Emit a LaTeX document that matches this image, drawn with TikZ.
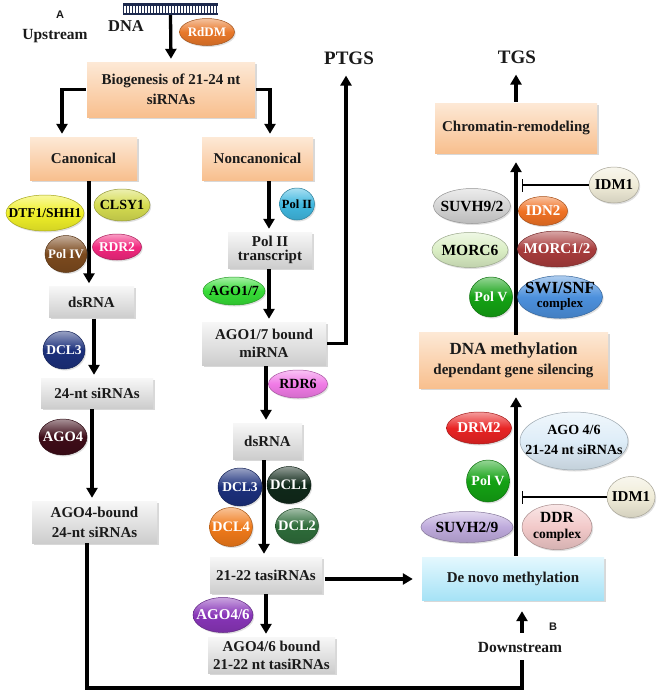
\documentclass[tikz,border=0pt]{standalone}
\usepackage{fontspec}
\setmainfont{Liberation Serif}
\newfontfamily\arialf{Liberation Sans}
\usetikzlibrary{shapes.geometric,arrows.meta,shadows}
\definecolor{txt}{HTML}{1A1A1A}
\definecolor{orT}{HTML}{FDE9D6}
\definecolor{orB}{HTML}{F8BF8E}
\definecolor{grT}{HTML}{F7F7F7}
\definecolor{grB}{HTML}{CDCDCD}
\definecolor{cyT}{HTML}{E4F8FE}
\definecolor{cyB}{HTML}{A6E2F6}
\definecolor{dnaC}{HTML}{1E2A4E}
\definecolor{cRd}{HTML}{E8782A}
\definecolor{cDTF}{HTML}{F0F028}
\definecolor{cCL}{HTML}{D5DC50}
\definecolor{cPfour}{HTML}{7C4A1E}
\definecolor{cRtwo}{HTML}{F2287E}
\definecolor{cNavy}{HTML}{1C307C}
\definecolor{cAfour}{HTML}{3E0C18}
\definecolor{cPtwo}{HTML}{40B8E0}
\definecolor{cAse}{HTML}{36DC36}
\definecolor{cRsix}{HTML}{F07AE6}
\definecolor{cDone}{HTML}{10291A}
\definecolor{cDfour}{HTML}{F07A1A}
\definecolor{cDtwo}{HTML}{2E6C3A}
\definecolor{cAfs}{HTML}{8835B8}
\definecolor{cSV}{HTML}{D4D4D4}
\definecolor{cIDN}{HTML}{F07224}
\definecolor{cIDM}{HTML}{F0ECD8}
\definecolor{cMsix}{HTML}{DAEEC4}
\definecolor{cMot}{HTML}{A83C3C}
\definecolor{cPV}{HTML}{14A214}
\definecolor{cSWI}{HTML}{4C90DC}
\definecolor{cDRM}{HTML}{E82424}
\definecolor{cAGs}{HTML}{DEEDF8}
\definecolor{cStn}{HTML}{BEAADC}
\definecolor{cDDR}{HTML}{F2C9C9}
\newcommand\zw[1]{\makebox[0pt]{#1}}
\newcommand\fs[2]{\fontsize{#1}{#2}\selectfont}
\begin{document}
\begin{tikzpicture}[x=1pt,y=-1pt,
 arr/.style={line width=3.3pt,-{Triangle[length=10pt,width=11pt]},shorten >=3pt,shorten <=1pt},
 ln/.style={line width=3.3pt},
 inh/.style={line width=1.2pt,-{Bar[width=13pt,line width=1.4pt]}},
 box/.style={rectangle,inner sep=0pt,align=center,font={\fs{15}{20}\bfseries},text=txt,
   drop shadow={opacity=0.3,shadow xshift=1.5pt,shadow yshift=-1.8pt}},
 obox/.style={box,top color=orT,bottom color=orB},
 gbox/.style={box,top color=grT,bottom color=grB},
 cbox/.style={box,top color=cyT,bottom color=cyB},
 sz/.style 2 args={minimum width=#1pt,minimum height=#2pt},
 blob/.style={ellipse,inner sep=0pt,font={\fs{14}{16}\bfseries},text=black,
   top color=#1!45!white,bottom color=#1!88!black,middle color=#1,draw=#1!70!black,line width=0.5pt,
   drop shadow={opacity=0.25,shadow xshift=1.2pt,shadow yshift=-1.5pt}},
 wt/.style={text=white},
 lbl/.style={font={\fs{15.5}{18}\bfseries},text=txt,inner sep=1pt},
 ttl/.style={font={\fs{19}{20}\bfseries},text=txt,inner sep=1pt},
 tag/.style={font={\arialf\bfseries\fs{11}{12}},text=txt,inner sep=1pt},
]
\fill[white] (0,0) rectangle (666,694);
\useasboundingbox (0,0) rectangle (666,694);

% ---------- labels ----------
\node[tag] (lA) at (60,15) {A};
\node[lbl] (up) at (55,36) {Upstream};
\node[lbl,font={\fs{16.5}{18}\bfseries}] (dnat) at (126,26) {DNA};
\node[ttl] (ptgs) at (349,58) {PTGS};
\node[ttl] (tgs) at (517,57) {TGS};
\node[lbl,inner ysep=8pt] (dstream) at (520,647) {Downstream};
\node[tag] (lB) at (553,627) {B};

% ---------- DNA ladder ----------
\node[minimum width=95pt,minimum height=12pt,inner sep=0pt] (ladder) at (170.5,9) {};
\fill[dnaC] (ladder.north west) rectangle ([yshift=-3pt]ladder.north east);
\fill[dnaC] ([yshift=2.2pt]ladder.south west) rectangle (ladder.south east);
\foreach \i in {0,...,31}
  \fill[dnaC] ([xshift=\i*3pt]ladder.north west) rectangle ([xshift=\i*3pt+1.6pt]ladder.south west);

% ---------- boxes ----------
\node[obox,sz={168}{55}] (bio) at (171,89.5) {Biogenesis of 21-24 nt\\siRNAs};
\node[obox,sz={107}{43}] (can) at (83.5,158.5) {Canonical};
\node[obox,sz={111}{43}] (non) at (257.5,158.5) {Noncanonical};
\node[gbox,sz={85}{31}] (ds1) at (91.5,302) {dsRNA};
\node[gbox,sz={112}{30}] (s24) at (97,393) {24-nt siRNAs};
\node[gbox,sz={125}{42}] (ago4b) at (94.5,522) {AGO4-bound\\24-nt siRNAs};
\node[gbox,sz={84}{36}] (pol2t) at (270,250) {Pol II\\[-6pt]transcript};
\node[gbox,sz={124}{43}] (ago17b) at (264,343.5) {AGO1/7 bound\\[-2pt]miRNA};
\node[gbox,sz={69}{36}] (ds2) at (267.5,441) {dsRNA};
\node[gbox,sz={112}{36}] (tasi) at (266,575) {21-22 tasiRNAs};
\node[gbox,sz={127}{36}] (ago46b) at (271.5,655) {AGO4/6 bound\\[-2pt]21-22 nt tasiRNAs};
\node[obox,sz={162}{50}] (chrom) at (516,128) {Chromatin-remodeling};
\node[obox,sz={189}{56}] (dnam) at (513.5,360) {{\fs{17}{20}DNA methylation}\\dependant gene silencing};
\node[cbox,sz={182}{43}] (denovo) at (513,578.5) {De novo methylation};

% ---------- helper coordinates ----------
\coordinate (xG) at (62,0);
\coordinate (xH) at (270,0);
\coordinate (xA) at (89,0);
\coordinate (xB) at (94,0);
\coordinate (xC) at (92,0);
\coordinate (xD) at (269,0);
\coordinate (xE) at (266,0);
\coordinate (xF) at (264,0);
\coordinate (xP) at (346,0);
\coordinate (xR) at (516,0);
\coordinate (xI) at (522,0);
\coordinate (yT) at (0,579);
\coordinate (bl) at (87,688);
\coordinate (br) at (522,688);

% ---------- connectors ----------
\draw[arr,shorten <=0pt] (ladder.south) -- (bio.north);
\draw[arr] (bio.west) -| (can.north -| xG);
\draw[arr] (bio.east) -| (non.north -| xH);
\draw[arr] (can.south -| xA) -- (ds1.north -| xA);
\draw[arr] (ds1.south -| xB) -- (s24.north -| xB);
\draw[arr] (s24.south -| xC) -- (ago4b.north -| xC);
\draw[ln] (ago4b.south -| bl) -- (bl) -- (br) -- (dstream.south -| br);
\draw[arr,shorten >=11pt] (dstream.north -| br) -- (denovo.south -| br);
\draw[arr] (non.south -| xD) -- (pol2t.north -| xD);
\draw[arr] (pol2t.south -| xD) -- (ago17b.north -| xD);
\draw[arr,shorten >=10pt] (ago17b.east) -| (ptgs.south -| xP);
\draw[arr] (ago17b.south -| xE) -- (ds2.north -| xE);
\draw[arr] (ds2.south -| xF) -- (tasi.north -| xF);
\draw[arr] (tasi.south -| xE) -- (ago46b.north -| xE);
\draw[arr,shorten >=9pt,shorten <=3pt] (tasi.east |- yT) -- (denovo.west |- yT);
\draw[arr,shorten >=9pt] (denovo.north -| xR) -- (dnam.south -| xR);
\draw[arr,shorten >=9pt,shorten <=-3pt] (dnam.north -| xR) -- (chrom.south -| xR);
\draw[arr,shorten >=10pt] (chrom.north -| xR) -- (tgs.south -| xR);

% ---------- enzymes / factors ----------
\node[blob=cRd,wt,sz={55}{27},font={\fs{13}{14}\bfseries}] (rddm) at (207,32) {\zw{RdDM}};
\node[blob=cDTF,sz={78}{36},font={\fs{13.5}{14}\bfseries}] (dtf) at (45,213) {\zw{DTF1/SHH1}};
\node[blob=cCL,sz={56}{32}] (clsy) at (122,205) {\zw{CLSY1}};
\node[blob=cPfour,wt,sz={42}{37},font={\fs{13}{14}\bfseries}] (pol4) at (66,254) {\zw{Pol IV}};
\node[blob=cRtwo,wt,sz={49}{26},font={\fs{13.5}{14}\bfseries}] (rdr2) at (117,247) {\zw{RDR2}};
\node[blob=cNavy,wt,sz={42}{38},font={\fs{13.5}{14}\bfseries}] (dcla) at (64,350) {\zw{DCL3}};
\node[blob=cAfour,wt,sz={48}{36},font={\fs{14.5}{15}\bfseries}] (ago4) at (63,437) {\zw{AGO4}};
\node[blob=cPtwo,sz={35}{32},font={\fs{12.5}{13}\bfseries}] (pol2) at (297,204) {\zw{Pol II}};
\node[blob=cAse,sz={62}{28}] (ago17) at (234,291) {\zw{AGO1/7}};
\node[blob=cRsix,sz={59}{28}] (rdr6) at (298,384) {\zw{RDR6}};
\node[blob=cNavy,wt,sz={44}{38},font={\fs{13.5}{14}\bfseries}] (dclb) at (240,487) {\zw{DCL3}};
\node[blob=cDone,wt,sz={44}{37},font={\fs{14.5}{15}\bfseries}] (dcl1) at (289,485) {\zw{DCL1}};
\node[blob=cDfour,wt,sz={43}{39},font={\fs{14.5}{15}\bfseries}] (dcl4) at (231,527) {\zw{DCL4}};
\node[blob=cDtwo,wt,sz={43}{35},font={\fs{14.5}{15}\bfseries}] (dcl2) at (297,526) {\zw{DCL2}};
\node[blob=cAfs,wt,sz={60}{35},font={\fs{15}{16}\bfseries}] (ago46) at (223,615) {\zw{AGO4/6}};

\node[blob=cSV,sz={77}{35},font={\fs{15.5}{16}\bfseries}] (suvhA) at (472,206) {\zw{SUVH9/2}};
\node[blob=cIDN,wt,sz={49}{29},font={\fs{15}{16}\bfseries}] (idn2) at (543,211) {\zw{IDN2}};
\node[blob=cIDM,sz={50}{36},font={\fs{15}{16}\bfseries}] (idmA) at (614,185) {\zw{IDM1}};
\node[blob=cMsix,sz={76}{35},font={\fs{15.5}{16}\bfseries}] (morc6) at (470,250) {\zw{MORC6}};
\node[blob=cMot,wt,sz={79}{36},font={\fs{15}{16}\bfseries}] (morc12) at (557,249) {\zw{MORC1/2}};
\node[blob=cPV,wt,sz={43}{40}] (polvA) at (491,297) {\zw{Pol V}};
\node[blob=cSWI,sz={85}{42}] (swi) at (560,297) {\zw{\begin{tabular}{@{}c@{}}\fs{17}{17}SWI/SNF\\[-2pt]\fs{13}{13}complex\end{tabular}}};
\node[blob=cDRM,wt,sz={65}{32},font={\fs{15}{16}\bfseries}] (drm2) at (479,428) {\zw{DRM2}};
\node[blob=cAGs,sz={108}{58}] (agos) at (574,441) {\zw{\begin{tabular}{@{}c@{}}AGO 4/6\\[4pt]21-24 nt siRNAs\end{tabular}}};
\node[blob=cPV,wt,sz={43}{42}] (polvB) at (488,481) {\zw{Pol V}};
\node[blob=cIDM,sz={48}{41},font={\fs{15}{16}\bfseries}] (idmB) at (631,497) {\zw{IDM1}};
\node[blob=cStn,sz={92}{31},font={\fs{15.5}{16}\bfseries}] (suvhB) at (467,527) {\zw{SUVH2/9}};
\node[blob=cDDR,sz={70}{39}] (ddr) at (557,527) {\zw{\begin{tabular}{@{}c@{}}\fs{15.5}{15.5}DDR\\[0pt]\fs{13.5}{13.5}complex\end{tabular}}};

% ---------- inhibitions ----------
\draw[inh] (idmA.west) -- (idmA.west -| xI);
\draw[inh] (idmB.west) -- (idmB.west -| xI);
\end{tikzpicture}
\end{document}
